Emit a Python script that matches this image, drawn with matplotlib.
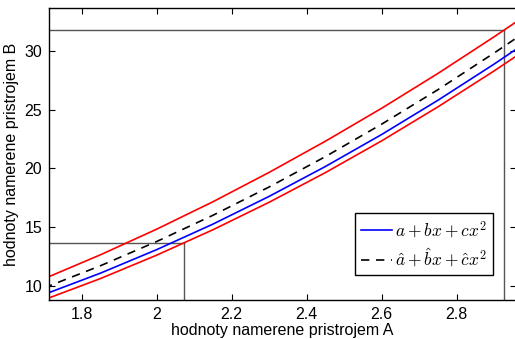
import matplotlib
matplotlib.use("Agg")
import matplotlib.pyplot as plt

plt.rcParams["font.family"] = ["Liberation Sans", "DejaVu Sans"]
plt.rcParams["mathtext.fontset"] = "cm"

# Values
x_pts = [1.70, 1.85, 2.00, 2.15, 2.30, 2.45, 2.60, 2.75, 2.90, 2.96]
fit_true = [9.28, 11.09, 13.09, 15.26, 17.62, 20.16, 22.88, 25.79, 28.87, 30.16]
fit_est = [9.84, 11.72, 13.78, 16.01, 18.42, 21.00, 23.76, 26.69, 29.81, 31.10]
band_upper = [10.62, 12.65, 14.83, 17.16, 19.66, 22.31, 25.11, 28.07, 31.19, 32.48]
band_lower = [8.83, 10.63, 12.62, 14.78, 17.12, 19.64, 22.34, 25.23, 28.29, 29.57]

# Reading guides (x on A, y on B)
guide_low = (2.073, 13.68)
guide_high = (2.926, 31.78)

x_ticks = [1.8, 2.0, 2.2, 2.4, 2.6, 2.8]
x_ticklabels = ["1.8", "2", "2.2", "2.4", "2.6", "2.8"]
y_ticks = [10, 15, 20, 25, 30]
xlim = (1.713, 2.958)
ylim = (8.81, 33.63)

fig = plt.figure(figsize=(5.15, 3.39), dpi=100)
ax = fig.add_axes([49 / 515, 39 / 339, 467 / 515, 292 / 339])

# guides
for gx, gy in [guide_low, guide_high]:
    ax.plot([xlim[0], gx], [gy, gy], color="#555555", lw=1.0)
    ax.plot([gx, gx], [ylim[0], gy], color="#555555", lw=1.0)

ax.plot(x_pts, band_upper, color="red", lw=1.2)
ax.plot(x_pts, band_lower, color="red", lw=1.2)
ax.plot(x_pts, fit_true, color="blue", lw=1.2, label=r"$a+bx+cx^2$")
ax.plot(x_pts, fit_est, color="black", lw=1.2, ls=(0, (5, 4)),
        label=r"$\hat{a}+\hat{b}x+\hat{c}x^2$")

ax.set_xlim(xlim)
ax.set_ylim(ylim)
ax.set_xticks(x_ticks)
ax.set_xticklabels(x_ticklabels)
ax.set_yticks(y_ticks)
ax.tick_params(direction="in", length=4, top=True, right=True, labelsize=11.5, pad=5)
for s in ax.spines.values():
    s.set_linewidth(1.0)

ax.set_xlabel("hodnoty namerene pristrojem A", fontsize=11.5, labelpad=1)
ax.set_ylabel("hodnoty namerene pristrojem B", fontsize=11.5, labelpad=4)

leg = ax.legend(loc="lower right", bbox_to_anchor=(0.951, 0.0856),
                borderaxespad=0, fancybox=False, edgecolor="black",
                fontsize=12.5, handlelength=1.75, handletextpad=0.2,
                borderpad=0.35, labelspacing=0.35, framealpha=1)
leg.get_frame().set_linewidth(1.0)

fig.savefig("out.png", dpi=100)
